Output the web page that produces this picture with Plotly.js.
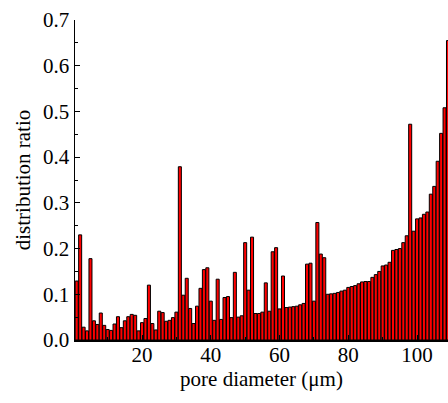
<!DOCTYPE html>
<html>
<head>
<meta charset="utf-8">
<script src="https://cdn.plot.ly/plotly-3.0.1.min.js"></script>
<style>html,body{margin:0;padding:0;background:#fff;overflow:hidden}#chart{width:448px;height:403px}</style>
</head>
<body>
<div id="chart"></div>
<script>
const poreDiameter = [1,2,3,4,5,6,7,8,9,10,11,12,13,14,15,16,17,18,19,20,
  21,22,23,24,25,26,27,28,29,30,31,32,33,34,35,36,37,38,39,40,
  41,42,43,44,45,46,47,48,49,50,51,52,53,54,55,56,57,58,59,60,
  61,62,63,64,65,66,67,68,69,70,71,72,73,74,75,76,77,78,79,80,
  81,82,83,84,85,86,87,88,89,90,91,92,93,94,95,96,97,98,99,100,
  101,102,103,104,105,106,107,108,109];
const distributionRatio = [
  0.129,0.230,0.028,0.020,0.178,0.042,0.034,0.059,0.032,0.023,
  0.021,0.035,0.051,0.027,0.042,0.051,0.056,0.054,0.020,0.038,
  0.047,0.120,0.036,0.022,0.063,0.060,0.041,0.043,0.049,0.061,
  0.379,0.098,0.135,0.069,0.036,0.074,0.113,0.154,0.158,0.085,
  0.043,0.133,0.045,0.093,0.095,0.049,0.148,0.050,0.053,0.213,
  0.109,0.225,0.058,0.058,0.061,0.125,0.063,0.193,0.202,0.068,
  0.140,0.071,0.072,0.073,0.074,0.077,0.080,0.166,0.168,0.085,
  0.257,0.188,0.180,0.100,0.101,0.102,0.104,0.107,0.109,0.115,
  0.117,0.119,0.123,0.127,0.128,0.128,0.137,0.143,0.150,0.162,
  0.164,0.170,0.196,0.198,0.200,0.213,0.228,0.472,0.238,0.265,
  0.267,0.275,0.280,0.319,0.336,0.391,0.452,0.508,0.655];
const xTicks = [20,40,60,80,100];
const yTicks = [0.0,0.1,0.2,0.3,0.4,0.5,0.6,0.7];

const font = {family: 'Times New Roman', size: 21, color: '#000'};

Plotly.newPlot('chart', [{
  type: 'bar',
  x: poreDiameter,
  y: distributionRatio,
  marker: {color: '#ff0000', line: {color: '#000', width: 1}},
  hoverinfo: 'skip'
}], {
  width: 448, height: 403,
  margin: {l: 75, r: 0, t: 20, b: 63, pad: 0},
  paper_bgcolor: '#fff', plot_bgcolor: '#fff',
  bargap: 0.12,
  showlegend: false,
  font: font,
  xaxis: {
    range: [0.5, 109], tickvals: xTicks, ticktext: xTicks.map(String),
    ticks: 'inside', ticklen: 5, tickwidth: 1, tickcolor: '#000',
    ticklabelstandoff: -5,
    minor: {dtick: 10, tick0: 0, ticks: 'inside', ticklen: 3, tickcolor: '#000'},
    showline: true, linecolor: '#000', linewidth: 1.5, mirror: false,
    showgrid: false, zeroline: false, tickfont: font,
    title: {text: 'pore diameter (μm)', font: font, standoff: 2}
  },
  yaxis: {
    range: [0, 0.7], tickvals: yTicks, ticktext: yTicks.map(v => v.toFixed(1)),
    ticks: 'inside', ticklen: 5, tickwidth: 1, tickcolor: '#000',
    minor: {dtick: 0.05, tick0: 0, ticks: 'inside', ticklen: 3, tickcolor: '#000'},
    showline: true, linecolor: '#000', linewidth: 1.5, mirror: false,
    showgrid: false, zeroline: false, tickfont: font,
    title: {text: 'distribution ratio', font: font, standoff: 6}
  }
}, {displayModeBar: false, staticPlot: true});
</script>
</body>
</html>
